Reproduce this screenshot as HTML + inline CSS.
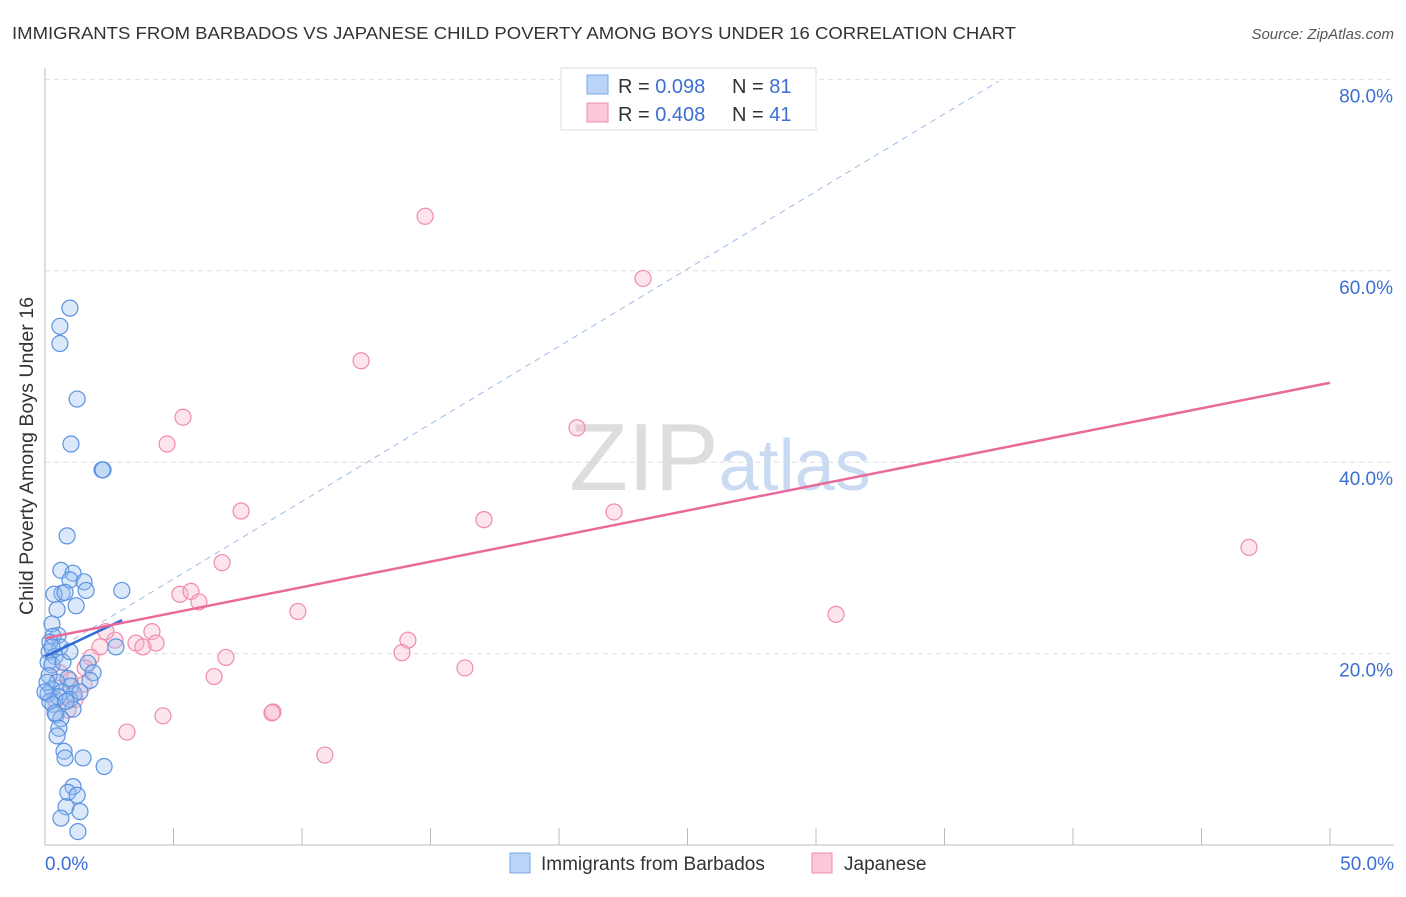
<!DOCTYPE html>
<html><head><meta charset="utf-8"><style>
body{margin:0;background:#fff;font-family:"Liberation Sans",sans-serif;}
svg text{font-family:"Liberation Sans",sans-serif;}
</style></head><body>
<svg id="chart" width="1406" height="892" viewBox="0 0 1406 892">
<text x="12" y="39" font-size="17.5" fill="#333" textLength="1004" lengthAdjust="spacingAndGlyphs">IMMIGRANTS FROM BARBADOS VS JAPANESE CHILD POVERTY AMONG BOYS UNDER 16 CORRELATION CHART</text>
<text x="1394" y="39" font-size="15" fill="#555" text-anchor="end" font-style="italic">Source: ZipAtlas.com</text>
<text x="720" y="490" font-size="96" fill="#ddd" text-anchor="middle" font-family="Liberation Serif"><tspan>ZIP</tspan><tspan fill="#c9daf2" font-family="Liberation Sans" font-size="72">atlas</tspan></text>
<text transform="translate(33,456) rotate(-90)" font-size="19" fill="#333" text-anchor="middle" textLength="318" lengthAdjust="spacingAndGlyphs">Child Poverty Among Boys Under 16</text>
<g id="grid"></g><g id="ticks"></g><g id="pts"></g><g id="lines"></g>
<g>
<rect x="561" y="68" width="255" height="62" fill="#fff" stroke="#ddd"/>
<rect x="587" y="75" width="21" height="19" fill="#b9d4f7" stroke="#7aa7e6"/>
<rect x="587" y="103" width="21" height="19" fill="#fbc8d7" stroke="#f08bab"/>
<text x="618" y="93" font-size="20" fill="#333">R = <tspan fill="#3b6fd4">0.098</tspan></text>
<text x="732" y="93" font-size="20" fill="#333">N = <tspan fill="#3b6fd4">81</tspan></text>
<text x="618" y="121" font-size="20" fill="#333">R = <tspan fill="#3b6fd4">0.408</tspan></text>
<text x="732" y="121" font-size="20" fill="#333">N = <tspan fill="#3b6fd4">41</tspan></text>
</g>
<g>
<rect x="510" y="853" width="20" height="20" fill="#b9d4f7" stroke="#7aa7e6"/>
<text x="541" y="870" font-size="19" fill="#333">Immigrants from Barbados</text>
<rect x="812" y="853" width="20" height="20" fill="#fbc8d7" stroke="#f08bab"/>
<text x="844" y="870" font-size="19" fill="#333">Japanese</text>
</g>
</svg>
<script>
const xTicks=[0,5,10,15,20,25,30,35,40,45,50];
const yTicks=[20,40,60,80];
const blueX=[0.97,0.58,0.58,1.25,1.01,2.22,2.26,0.86,0.62,1.09,0.97,1.52,1.60,2.99,0.66,0.35,0.78,1.21,0.47,0.27,0.51,0.31,0.19,0.58,0.16,2.76,0.39,0.12,1.67,0.27,1.87,0.16,0.89,1.75,0.47,1.01,0.27,0.66,1.13,0.12,0.51,0.97,0.31,1.09,0.43,0.62,0.54,0.47,0.74,0.78,1.48,2.30,1.09,0.89,1.25,0.82,1.36,0.62,1.28,0.19,0.08,0.0,0.39,0.70,0.97,1.36,0.82,0.27];
const blueY=[56.1,54.2,52.4,46.6,41.9,39.2,39.2,32.3,28.7,28.4,27.7,27.5,26.6,26.6,26.3,26.2,26.4,25.0,24.6,23.1,21.9,21.8,21.2,20.7,20.2,20.7,19.7,19.1,19.0,18.8,18.0,17.7,17.4,17.2,17.0,16.6,16.3,16.0,15.8,15.8,15.5,15.2,14.7,14.2,13.6,13.2,12.2,11.4,9.8,9.1,9.1,8.2,6.1,5.5,5.2,4.0,3.5,2.8,1.4,15.0,17.0,16.0,13.8,19.1,20.2,16.0,15.0,20.7];
const pinkX=[14.79,23.27,12.30,5.37,4.75,20.70,7.63,17.08,22.14,46.85,6.89,5.25,5.68,5.99,9.84,30.78,14.12,13.89,4.16,4.32,3.54,3.81,2.72,2.37,2.14,1.79,7.04,16.34,6.58,1.52,0.97,4.59,3.19,8.87,8.83,10.89,0.58,0.39,1.17,0.89,1.56];
const pinkY=[65.7,59.2,50.6,44.7,41.9,43.6,34.9,34.0,34.8,31.1,29.5,26.2,26.5,25.4,24.4,24.1,21.4,20.1,22.3,21.1,21.1,20.7,21.4,22.3,20.7,19.6,19.6,18.5,17.6,16.8,17.2,13.5,11.8,13.9,13.8,9.4,18.0,15.2,15.2,14.1,18.5];
const X=v=>45+v*25.7, Y=v=>845-v*9.57;
const ns='http://www.w3.org/2000/svg';
function mk(t,a,p){const e=document.createElementNS(ns,t);for(const k in a)e.setAttribute(k,a[k]);p.appendChild(e);return e;}
const g=document.getElementById('grid'),tk=document.getElementById('ticks'),pts=document.getElementById('pts'),ln=document.getElementById('lines');
yTicks.forEach(v=>{
 const l=mk('line',{x1:45,x2:1394,y1:Y(v),y2:Y(v),stroke:'#ddd','stroke-dasharray':'5,4'},g);
 
 
 const t=mk('text',{x:1393,y:Y(v)+23,'font-size':19,fill:'#3b6fd4','text-anchor':'end'},tk);
 t.textContent=v.toFixed(1)+'%';
 
 
});
mk('line',{x1:45,x2:45,y1:68,y2:845,stroke:'#bbb'},tk);
mk('line',{x1:45,x2:1394,y1:845,y2:845,stroke:'#bbb'},tk);
xTicks.forEach(v=>{
 const l=mk('line',{x1:X(v),x2:X(v),y1:828,y2:845,stroke:'#bbb'},tk);
 
 
});
[[0,'start',45],[50,'end',1394]].forEach(([v,a,x])=>{
 const t=mk('text',{x:x,y:870,'font-size':19,fill:'#3b6fd4','text-anchor':a},tk);
 t.textContent=v.toFixed(1)+'%';
 
 
});
pinkX.forEach((x,i)=>{
 const c=mk('circle',{cx:X(x),cy:Y(pinkY[i]),r:8,fill:'rgba(248,180,200,0.35)',stroke:'#f08bab','stroke-width':1.2},pts);
 
 
});
blueX.forEach((x,i)=>{
 const c=mk('circle',{cx:X(x),cy:Y(blueY[i]),r:8,fill:'rgba(150,190,240,0.35)',stroke:'#5b93e0','stroke-width':1.2},pts);
 
 
});
const bl=mk('line',{x1:X(0),y1:Y(19.7),x2:X(37.1),y2:Y(79.8),stroke:'#9dbbe6','stroke-dasharray':'6,5','stroke-width':1},ln);


const bs=mk('line',{x1:X(0),y1:Y(19.7),x2:X(3.0),y2:Y(23.5),stroke:'#2f6bd6','stroke-width':2.5},ln);


const pl=mk('line',{x1:X(0),y1:Y(21.6),x2:X(50),y2:Y(48.3),stroke:'#e8699a','stroke-width':2.5},ln);


</script>
</body></html>
